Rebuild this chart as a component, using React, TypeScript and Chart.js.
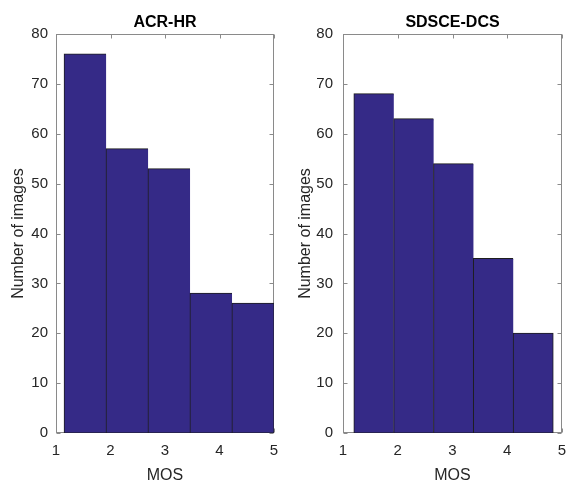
import React, { useEffect, useRef } from "react";
import { Chart, registerables } from "chart.js";

Chart.register(...registerables);

// ---- data ----
const xTicks = [1, 2, 3, 4, 5];
const yTicks = [0, 10, 20, 30, 40, 50, 60, 70, 80];
const xLabel = "MOS";
const yLabel = "Number of images";

const acrTitle = "ACR-HR";
const acrBinEdges = [1.15, 1.92, 2.69, 3.46, 4.23, 5.0];
const acrCounts = [76, 57, 53, 28, 26];

const sdsceTitle = "SDSCE-DCS";
const sdsceBinEdges = [1.2, 1.928, 2.655, 3.383, 4.11, 4.838];
const sdsceCounts = [68, 63, 54, 35, 20];

// ---- styles ----
const FONT = '"Liberation Sans", Arial, Helvetica, sans-serif';
const AXIS_TEXT = "#262626";
const BOX_COLOR = "#8a8a8a";
const BAR_FILL = "#352A87";
const BAR_EDGE = "#1e1e1e";

const boxPlugin = {
  id: "matlabBox",
  beforeDatasetsDraw(chart: any) {
    const { ctx, chartArea: a, scales } = chart;
    const L = Math.floor(a.left) + 0.5;
    const R = Math.ceil(a.right) - 0.5;
    const T = Math.floor(a.top) + 0.5;
    const B = Math.ceil(a.bottom) - 0.5;
    const len = 4;
    ctx.save();
    ctx.strokeStyle = BOX_COLOR;
    ctx.lineWidth = 1;
    ctx.beginPath();
    xTicks.forEach((v) => {
      const px = Math.round(scales.x.getPixelForValue(v)) + 0.5;
      ctx.moveTo(px, B);
      ctx.lineTo(px, B - len);
      ctx.moveTo(px, T);
      ctx.lineTo(px, T + len);
    });
    yTicks.forEach((v) => {
      const py = Math.round(scales.y.getPixelForValue(v)) + 0.5;
      ctx.moveTo(L, py);
      ctx.lineTo(L + len, py);
      ctx.moveTo(R, py);
      ctx.lineTo(R - len, py);
    });
    ctx.stroke();
    ctx.strokeRect(L, T, R - L, B - T);
    ctx.restore();
  },
};

function makeConfig(
  title: string,
  edges: number[],
  counts: number[],
  yAxisWidth: number,
  yTickPad: number,
  yTitlePad: number,
  rightPad: number
): any {
  const centers = counts.map((_, i) => (edges[i] + edges[i + 1]) / 2);
  const last = counts.length - 1;
  return {
    type: "bar",
    data: {
      datasets: [
        {
          data: counts.map((c, i) => ({ x: centers[i], y: c })),
          backgroundColor: BAR_FILL,
          borderColor: BAR_EDGE,
          borderWidth: (ctx: any) => ({
            left: 1,
            top: 1,
            bottom: 1,
            right: ctx.dataIndex === last ? 1 : 0,
          }),
          borderSkipped: false,
          barPercentage: 1,
          categoryPercentage: 1,
          inflateAmount: 0.5,
        },
      ],
    },
    options: {
      animation: false,
      responsive: false,
      devicePixelRatio: 1,
      layout: { padding: { left: 0, right: rightPad, top: 0, bottom: 0 } },
      plugins: {
        legend: { display: false },
        tooltip: { enabled: false },
        title: {
          display: true,
          text: title,
          fullSize: false,
          color: "#000000",
          font: { family: FONT, size: 16, weight: "bold", lineHeight: 1.2 },
          padding: { top: 12.6, bottom: 2.2 },
        },
      },
      scales: {
        x: {
          type: "linear",
          min: xTicks[0],
          max: xTicks[xTicks.length - 1],
          offset: false,
          grid: { display: false, drawTicks: false },
          border: { display: false },
          afterBuildTicks: (s: any) => {
            s.ticks = xTicks.map((v) => ({ value: v }));
          },
          afterFit: (s: any) => {
            s.height = 49;
          },
          ticks: {
            color: AXIS_TEXT,
            padding: 0,
            maxRotation: 0,
            font: { family: FONT, size: 15, lineHeight: 2.33 },
          },
          title: {
            display: true,
            text: xLabel,
            color: AXIS_TEXT,
            font: { family: FONT, size: 16, lineHeight: 0.75 },
            padding: 0,
          },
        },
        y: {
          type: "linear",
          min: yTicks[0],
          max: yTicks[yTicks.length - 1],
          grid: { display: false, drawTicks: false },
          border: { display: false },
          afterBuildTicks: (s: any) => {
            s.ticks = yTicks.map((v) => ({ value: v }));
          },
          afterFit: (s: any) => {
            s.width = yAxisWidth;
          },
          ticks: {
            color: AXIS_TEXT,
            padding: yTickPad,
            font: { family: FONT, size: 15 },
          },
          title: {
            display: true,
            text: yLabel,
            color: AXIS_TEXT,
            font: { family: FONT, size: 16, lineHeight: 1.2 },
            padding: { top: yTitlePad, bottom: 0 },
          },
        },
      },
    },
    plugins: [boxPlugin],
  };
}

function HistChart(props: { left: number; width: number; config: any }) {
  const ref = useRef<HTMLCanvasElement | null>(null);
  useEffect(() => {
    if (!ref.current) return;
    const chart = new Chart(ref.current, props.config);
    return () => chart.destroy();
  }, []);
  return (
    <canvas
      ref={ref}
      width={props.width}
      height={482}
      style={{
        position: "absolute",
        left: props.left,
        top: 0,
        width: props.width,
        height: 482,
        display: "block",
      }}
    />
  );
}

export default function App() {
  const leftCfg = makeConfig(acrTitle, acrBinEdges, acrCounts, 56, 8, 9, 9);
  const rightCfg = makeConfig(sdsceTitle, sdsceBinEdges, sdsceCounts, 60, 10, 13, 5);
  return (
    <div
      style={{
        position: "fixed",
        left: 0,
        top: 0,
        width: 567,
        height: 482,
        background: "#ffffff",
        overflow: "hidden",
      }}
    >
      <HistChart left={0} width={283} config={leftCfg} />
      <HistChart left={283} width={284} config={rightCfg} />
    </div>
  );
}
